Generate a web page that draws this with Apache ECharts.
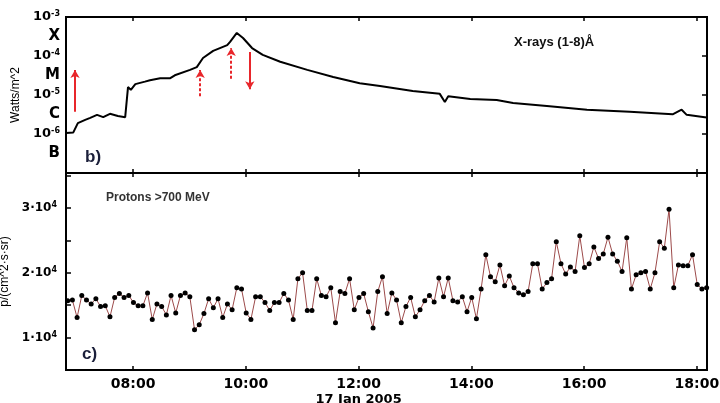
<!DOCTYPE html>
<html>
<head>
<meta charset="utf-8">
<script src="https://cdn.jsdelivr.net/npm/echarts@6/dist/echarts.min.js"></script>
<style>
  html, body { margin: 0; padding: 0; background: #fff; }
  #chart { width: 720px; height: 403px; }
</style>
</head>
<body>
<div id="chart"></div>
<script>
// hours of day UT, 17 Jan 2005
const xrayTimes = [6.81, 6.94, 7.02, 7.15, 7.24, 7.36, 7.47, 7.59, 7.73, 7.86, 7.89, 7.91, 7.96, 8.04, 8.21, 8.30, 8.48, 8.66, 8.74, 9.01, 9.13, 9.24, 9.42, 9.67, 9.72, 9.84, 9.95, 10.11, 10.30, 10.61, 11.09, 11.55, 12.02, 12.38, 12.96, 13.44, 13.53, 13.59, 13.98, 14.45, 14.74, 15.34, 16.05, 16.81, 17.57, 17.73, 17.82, 18.14, 18.18]
const xrayFlux = [1.06e-6, 1.1e-6, 1.9e-6, 2.3e-6, 2.6e-6, 3.1e-6, 2.7e-6, 3.3e-6, 2.9e-6, 2.7e-6, 2.9e-6, 1.6e-5, 1.35e-5, 1.9e-5, 2.2e-5, 2.4e-5, 2.7e-5, 2.7e-5, 3.2e-5, 4.4e-5, 5.2e-5, 8.9e-5, 1.35e-4, 1.9e-4, 2.3e-4, 3.9e-4, 2.9e-4, 1.6e-4, 1.07e-4, 7.1e-5, 4.4e-5, 2.9e-5, 2.0e-5, 1.7e-5, 1.26e-5, 1.07e-5, 6.6e-6, 9.3e-6, 7.9e-6, 7.4e-6, 6.2e-6, 5.2e-6, 4.2e-6, 3.7e-6, 3.2e-6, 4.2e-6, 3.1e-6, 2.7e-6, 2.65e-6]

// red arrows on the x-ray panel
const arrowTimes = [6.97, 9.19, 9.74, 10.07]
const arrowFrom = [3.7e-6, 9.3e-6, 2.6e-5, 1.27e-4]
const arrowTo = [4.4e-5, 4.4e-5, 1.6e-4, 1.4e-5]
const arrowDotted = [false, true, true, false]

// 5 min proton counts
const protonStart = 6.84
const protonStepMin = 5
const protonFlux = [
  15700, 15800, 13100, 16500, 15800, 15200, 16000, 14800, 14900, 13200,
  16200, 16800, 16200, 16500, 15400, 14900, 14900, 16900, 12800, 15200,
  14800, 13500, 16500, 13800, 16500, 16900, 16300, 11200, 12000, 13700,
  16000, 14600, 16000, 13100, 15200, 14300, 17700, 17500, 13800, 12800,
  16300, 16300, 15400, 14200, 15400, 15400, 16800, 15800, 12800, 19100,
  20000, 14200, 14200, 19100, 16500, 16300, 17700, 12300, 17100, 16800,
  19100, 14300, 16200, 16800, 14000, 11500, 17100, 19400, 13700, 16900,
  15800, 12300, 14800, 16200, 13200, 14300, 15700, 16500, 15500, 19200,
  16300, 19200, 15700, 15500, 16300, 14000, 16200, 12900, 17500, 22800,
  19400, 18600, 21200, 18000, 19500, 17700, 16900, 16600, 17100, 21400,
  21400, 17500, 18500, 19100, 24800, 21400, 19800, 20900, 20200, 25700,
  20800, 21400, 24000, 22200, 22900, 25500, 22900, 21800, 20200, 25400,
  17500, 19700, 20000, 20200, 17500, 20000, 24800, 23800, 29800, 17700,
  21200, 21100, 21100, 22800, 18200, 17500, 17700
]

const hourTicks = [8, 10, 12, 14, 16, 18]
const goesClasses = { '-3.5': 'X', '-4.5': 'M', '-5.5': 'C', '-6.5': 'B' }
const protonLabels = [10000, 20000, 30000]

const tMin = 6.81
const tMax = 18.18
const font = 'DejaVu Sans'

const chart = echarts.init(document.getElementById('chart'))

const hourLabel = v => {
  const s = (v < 10 ? '0' : '') + v + ':00'
  return v === 12 ? '{h|' + s + '}\n{d|17 Jan 2005}' : '{h|' + s + '}'
}

const timeAxis = (grid, pos, labels) => ({
  type: 'value',
  gridIndex: grid,
  position: pos,
  min: tMin,
  max: tMax,
  axisLine: { show: false },
  splitLine: { show: false },
  axisTick: { inside: true, length: 4, customValues: hourTicks, lineStyle: { color: '#000', width: 1.5 } },
  axisLabel: labels ? {
    customValues: hourTicks,
    margin: 6,
    formatter: hourLabel,
    rich: {
      h: { fontFamily: font, fontWeight: 'bold', fontSize: 14, color: '#000', lineHeight: 16 },
      d: { fontFamily: font, fontWeight: 'bold', fontSize: 13, color: '#000', lineHeight: 15 }
    }
  } : { show: false }
})

chart.setOption({
  animation: false,
  grid: [
    { left: 66, right: 13, top: 17, height: 156, show: true, borderColor: '#000', borderWidth: 2, outerBoundsMode: 'none', containLabel: false },
    { left: 66, right: 13, top: 173, height: 197, show: true, borderColor: '#000', borderWidth: 2, outerBoundsMode: 'none', containLabel: false }
  ],
  xAxis: [
    timeAxis(0, 'bottom', false),
    timeAxis(0, 'top', false),
    timeAxis(1, 'bottom', true),
    timeAxis(1, 'top', false)
  ],
  yAxis: [
    {
      type: 'log', gridIndex: 0, min: 1e-7, max: 1e-3, position: 'left',
      axisLine: { show: false }, axisTick: { show: false }, axisLabel: { show: false }, splitLine: { show: false }
    },
    {
      type: 'log', gridIndex: 0, min: 1e-7, max: 1e-3, position: 'right',
      axisLine: { show: false }, splitLine: { show: false }, axisLabel: { show: false },
      axisTick: { inside: true, length: 5, lineStyle: { color: '#000', width: 1.5 } }
    },
    {
      type: 'value', gridIndex: 0, min: -7, max: -3, interval: 0.5, position: 'left',
      name: 'Watts/m^2', nameLocation: 'middle', nameGap: 40,
      nameTextStyle: { fontFamily: 'Liberation Sans', fontSize: 12, color: '#000' },
      axisLine: { show: false }, axisTick: { show: false }, splitLine: { show: false },
      axisLabel: {
        margin: 6,
        formatter: v => {
          if (goesClasses[String(v)]) return '{c|' + goesClasses[String(v)] + '}'
          if (v === -7) return ''
          return '{b|10}{s|' + v + '}'
        },
        rich: {
          b: { fontFamily: font, fontWeight: 'bold', fontSize: 13, color: '#000', lineHeight: 14 },
          s: { fontFamily: font, fontWeight: 'bold', fontSize: 8, color: '#000', verticalAlign: 'top', lineHeight: 8 },
          c: { fontFamily: font, fontWeight: 'bold', fontSize: 15, color: '#000' }
        }
      }
    },
    {
      type: 'value', gridIndex: 1, min: 5000, max: 35400, interval: 5000, position: 'left',
      name: 'p/(cm^2·s·sr)', nameLocation: 'middle', nameGap: 44,
      nameTextStyle: { fontFamily: 'Liberation Sans', fontSize: 12, color: '#000' },
      axisLine: { show: false }, splitLine: { show: false },
      axisTick: { inside: true, length: 5, lineStyle: { color: '#000', width: 1.5 } },
      axisLabel: {
        margin: 9,
        formatter: v => protonLabels.includes(v) ? '{b|' + (v / 10000) + '·10}{s|4}' : '',
        rich: {
          b: { fontFamily: font, fontWeight: 'bold', fontSize: 12, color: '#000', lineHeight: 14 },
          s: { fontFamily: font, fontWeight: 'bold', fontSize: 8, color: '#000', verticalAlign: 'top', lineHeight: 8 }
        }
      }
    }
  ],
  graphic: [
    { type: 'text', left: 514, top: 36, style: { text: 'X-rays (1-8)Å', fontFamily: 'Liberation Sans', fontWeight: 'bold', fontSize: 13, fill: '#111' } },
    { type: 'text', left: 106, top: 192, style: { text: 'Protons >700 MeV', fontFamily: 'Liberation Sans', fontWeight: 'bold', fontSize: 12, fill: '#333' } },
    { type: 'text', left: 85, top: 149, style: { text: 'b)', fontFamily: 'Liberation Sans', fontWeight: 'bold', fontSize: 17, fill: '#1b1f3a' } },
    { type: 'text', left: 82, top: 346, style: { text: 'c)', fontFamily: 'Liberation Sans', fontWeight: 'bold', fontSize: 17, fill: '#1b1f3a' } }
  ],
  series: [
    {
      type: 'line',
      xAxisIndex: 0,
      yAxisIndex: 0,
      data: xrayTimes.map((t, i) => [t, xrayFlux[i]]),
      showSymbol: false,
      lineStyle: { color: '#000', width: 2 },
      markLine: {
        silent: true,
        symbol: ['none', 'arrow'],
        symbolSize: [7, 8],
        label: { show: false },
        data: arrowTimes.map((t, i) => [
          {
            coord: [t, arrowFrom[i]],
            lineStyle: { color: '#e8262b', width: 2, type: arrowDotted[i] ? [3, 2] : 'solid' },
            itemStyle: { color: '#e8262b' }
          },
          { coord: [t, arrowTo[i]] }
        ])
      }
    },
    {
      type: 'line',
      xAxisIndex: 2,
      yAxisIndex: 3,
      data: protonFlux.map((v, i) => [protonStart + i * protonStepMin / 60, v]),
      symbol: 'circle',
      symbolSize: 5,
      itemStyle: { color: '#000' },
      lineStyle: { color: '#9c4a4a', width: 1 }
    }
  ]
})
</script>
</body>
</html>
